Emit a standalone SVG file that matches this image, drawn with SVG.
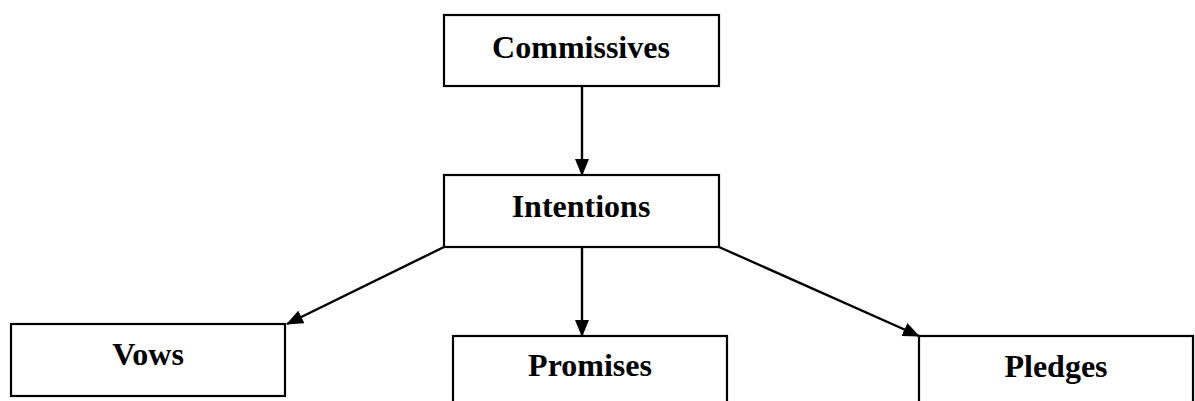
<svg xmlns="http://www.w3.org/2000/svg" width="1195" height="401" viewBox="0 0 1195 401">
  <style>
    .box { fill: #ffffff; stroke: #000000; stroke-width: 2.2; }
    .label { font-family: "Liberation Serif", "Times New Roman", serif; font-weight: bold; font-size: 32px; fill: #000000; text-anchor: middle; }
    .edge { stroke: #000000; stroke-width: 2.4; fill: none; marker-end: url(#arrow); }
  </style>
  <defs>
    <marker id="arrow" markerWidth="17" markerHeight="14" refX="16" refY="7" orient="auto" markerUnits="userSpaceOnUse">
      <path d="M0,0 L17,7 L0,14 Z" fill="#000000"/>
    </marker>
  </defs>
  <rect width="1195" height="401" fill="#ffffff"/>

  <g id="connectors">
    <line class="edge" x1="582" y1="86" x2="582" y2="175"/>
    <line class="edge" x1="444" y1="247" x2="287" y2="324"/>
    <line class="edge" x1="582" y1="247" x2="582" y2="336"/>
    <line class="edge" x1="719" y1="247" x2="919" y2="336"/>
  </g>

  <g id="commissives">
    <rect class="box" x="444" y="15" width="275" height="71"/>
    <text class="label" x="581" y="58">Commissives</text>
  </g>
  <g id="intentions">
    <rect class="box" x="444" y="175" width="275" height="72"/>
    <text class="label" x="581" y="217">Intentions</text>
  </g>
  <g id="vows">
    <rect class="box" x="11" y="324" width="274" height="72"/>
    <text class="label" x="148" y="365">Vows</text>
  </g>
  <g id="promises">
    <rect class="box" x="453" y="336" width="274" height="80"/>
    <text class="label" x="590" y="376">Promises</text>
  </g>
  <g id="pledges">
    <rect class="box" x="919" y="336" width="274" height="80"/>
    <text class="label" x="1056" y="377">Pledges</text>
  </g>
</svg>
